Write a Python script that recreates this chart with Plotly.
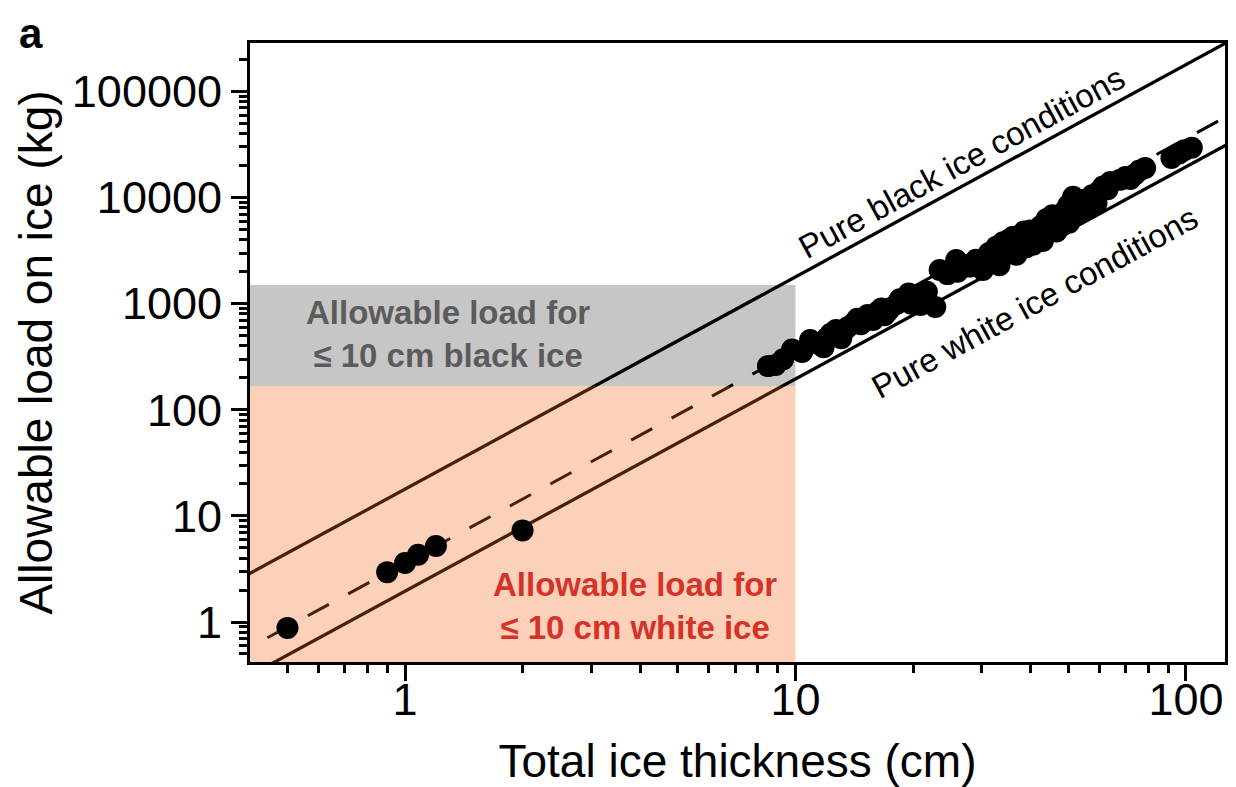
import plotly.graph_objects as go

# ---------------- data ----------------
# measured points (total ice thickness cm, allowable load kg)
thin_x = [0.5, 0.9, 1.0, 1.08, 1.2, 2.0]
thin_y = [0.88, 2.95, 3.6, 4.3, 5.2, 7.3]

thick_x = [8.5, 8.9, 9.3, 9.8, 10.4, 10.9, 11.4, 11.8, 12.0, 12.3, 12.7, 13.1,
           13.3, 13.6, 14.1, 14.4, 14.7, 15.0, 15.3, 15.8, 16.3, 16.6, 16.9,
           17.2, 17.5, 18.2, 18.5, 18.9, 19.5, 19.8, 20.2, 20.9, 21.7, 22.8,
           23.4, 24.5, 25.8, 26.0, 26.8, 27.9, 28.5, 29.0, 30.2, 31.0, 31.3,
           32.7, 33.0, 33.3, 34.0, 34.5, 35.2, 35.8, 36.1, 36.8, 37.3, 37.9,
           38.5, 39.0, 39.9, 40.0, 40.6, 41.3, 42.0, 42.5, 43.0, 43.4, 44.0,
           44.8, 45.5, 46.0, 46.6, 47.8, 48.3, 49.0, 50.0, 50.2, 51.4, 52.4,
           53.0, 54.0, 55.5, 56.8, 57.5, 59.0, 60.0, 61.3, 63.0, 64.0, 67.9,
           70.0, 72.0, 74.0, 76.0, 78.6, 91.8, 96.0, 99.0, 103.5]
thick_y = [258, 265, 300, 370, 350, 454, 420, 388, 470, 520, 565, 472,
           560, 600, 653, 720, 640, 700, 782, 702, 850, 900, 780,
           840, 905, 1000, 1100, 1083, 1250, 1000, 1150, 973, 1298, 930,
           2080, 1900, 2584, 2000, 2300, 2236, 2400, 2600, 2080, 2500, 3000,
           3450, 2900, 2300, 3800, 3300, 4000, 3300, 4270, 2900, 4300, 3700,
           4800, 3400, 4900, 4200, 3600, 4200, 4600, 5400, 3900, 4500, 6300,
           5730, 6800, 5600, 4800, 6500, 5500, 7500, 8500, 5800, 10200, 7130,
           8200, 9500, 7800, 8220, 10500, 8850, 11500, 12700, 12000, 14000, 14700,
           15600, 15000, 16500, 18000, 19000, 23600, 26000, 28000, 29500]

# reference lines (end points, beyond the frame, clipped by the axes)
line_x = [0.35, 130]
black_ice_y = [2.19, 302500]
fit_y = [0.441, 60840]
white_ice_y = [0.239, 32955]

# shaded zones
zone_x_min = 0.2
zone_x_max = 10
black_zone_y = [167, 1500]
white_zone_y = [0.1, 167]

# axis ticks
x_tickvals = [1, 10, 100]
x_ticktext = ["1", "10", "100"]
y_tickvals = [1, 10, 100, 1000, 10000, 100000]
y_ticktext = ["1", "10", "100", "1000", "10000", "100000"]

FONT = "Liberation Sans, Arial, Helvetica, sans-serif"

fig = go.Figure()

# gray zone (below lines)
fig.add_trace(go.Scatter(
    x=[zone_x_min, zone_x_max, zone_x_max, zone_x_min, zone_x_min],
    y=[black_zone_y[0], black_zone_y[0], black_zone_y[1], black_zone_y[1], black_zone_y[0]],
    fill="toself", fillcolor="#c6c6c6", mode="none", hoverinfo="skip", showlegend=False))

# lines
fig.add_trace(go.Scatter(x=line_x, y=black_ice_y, mode="lines",
                         line=dict(color="black", width=3.3), showlegend=False))
fig.add_trace(go.Scatter(x=line_x, y=white_ice_y, mode="lines",
                         line=dict(color="black", width=3.3), showlegend=False))
fig.add_trace(go.Scatter(x=line_x, y=fit_y, mode="lines",
                         line=dict(color="black", width=3, dash="24px,22px"), showlegend=False))

# orange zone (translucent, tints the lines beneath it)
fig.add_trace(go.Scatter(
    x=[zone_x_min, zone_x_max, zone_x_max, zone_x_min, zone_x_min],
    y=[white_zone_y[0], white_zone_y[0], white_zone_y[1], white_zone_y[1], white_zone_y[0]],
    fill="toself", fillcolor="rgba(248,98,22,0.30)", mode="none", hoverinfo="skip",
    showlegend=False))

# points
fig.add_trace(go.Scatter(x=thin_x + thick_x, y=thin_y + thick_y, mode="markers",
                         marker=dict(color="black", size=22, line=dict(width=0)),
                         showlegend=False))


def minor_vals(lo, hi):
    out = []
    for e in range(lo, hi + 1):
        for k in range(2, 10):
            out.append(k * 10 ** e)
    return out


tickfont = dict(family=FONT, size=45, color="black")
fig.update_xaxes(type="log", range=[-0.397, 2.10],
                 tickvals=x_tickvals, ticktext=x_ticktext, tickfont=tickfont,
                 ticks="outside", ticklen=16, tickwidth=3, tickcolor="black",
                 ticklabelstandoff=-20,
                 showline=True, linewidth=3, linecolor="black", mirror=True,
                 showgrid=False, zeroline=False,
                 minor=dict(tickvals=minor_vals(-1, 2), ticks="outside", ticklen=8,
                            tickwidth=3, tickcolor="black", showgrid=False),
                 title=dict(text="Total ice thickness (cm)",
                            font=dict(family=FONT, size=46, color="black"), standoff=21))
fig.update_yaxes(type="log", range=[-0.377, 5.457],
                 tickvals=y_tickvals, ticktext=y_ticktext, tickfont=tickfont,
                 ticks="outside", ticklen=16, tickwidth=3, tickcolor="black",
                 showline=True, linewidth=3, linecolor="black", mirror=True,
                 showgrid=False, zeroline=False,
                 minor=dict(tickvals=minor_vals(-1, 5), ticks="outside", ticklen=8,
                            tickwidth=3, tickcolor="black", showgrid=False),
                 title=dict(text="Allowable load on ice (kg)",
                            font=dict(family=FONT, size=46, color="black"), standoff=5))

# page body has an 8px offset; plot area should sit at viewport x 250..1225, y 43..662
OFF = 8
W, H = 1236, 787
VL, VR, VT, VB = 250, 1225, 43, 662
L, T = VL - OFF, VT - OFF
R, B = W - (VR - OFF), H - (VB - OFF)
pw, ph = VR - VL, VB - VT


def px2paper(px, py):
    return (px - VL) / pw, (VB - py) / ph


annots = []


def add_text(px, py, text, size, color, angle=0):
    ax, ay = px2paper(px, py)
    annots.append(dict(x=ax, y=ay, xref="paper", yref="paper", showarrow=False,
                       xanchor="center", yanchor="middle", text=text, textangle=angle,
                       align="center", font=dict(family=FONT, size=size, color=color)))


add_text(448, 334, "<b>Allowable load for<br>≤ 10 cm black ice</b>", 33, "#5b5b5b")
add_text(635, 606, "<b>Allowable load for<br>≤ 10 cm white ice</b>", 33, "#d4332a")
add_text(961, 162, "Pure black ice conditions", 33, "black", -28.5)
add_text(1034, 302, "Pure white ice conditions", 33, "black", -28.5)
add_text(31, 33, "<b>a</b>", 42, "black")

fig.update_layout(width=W, height=H, margin=dict(l=L, r=R, t=T, b=B, autoexpand=False),
                  paper_bgcolor="white", plot_bgcolor="white", annotations=annots,
                  showlegend=False)

fig.write_html("out.html")
